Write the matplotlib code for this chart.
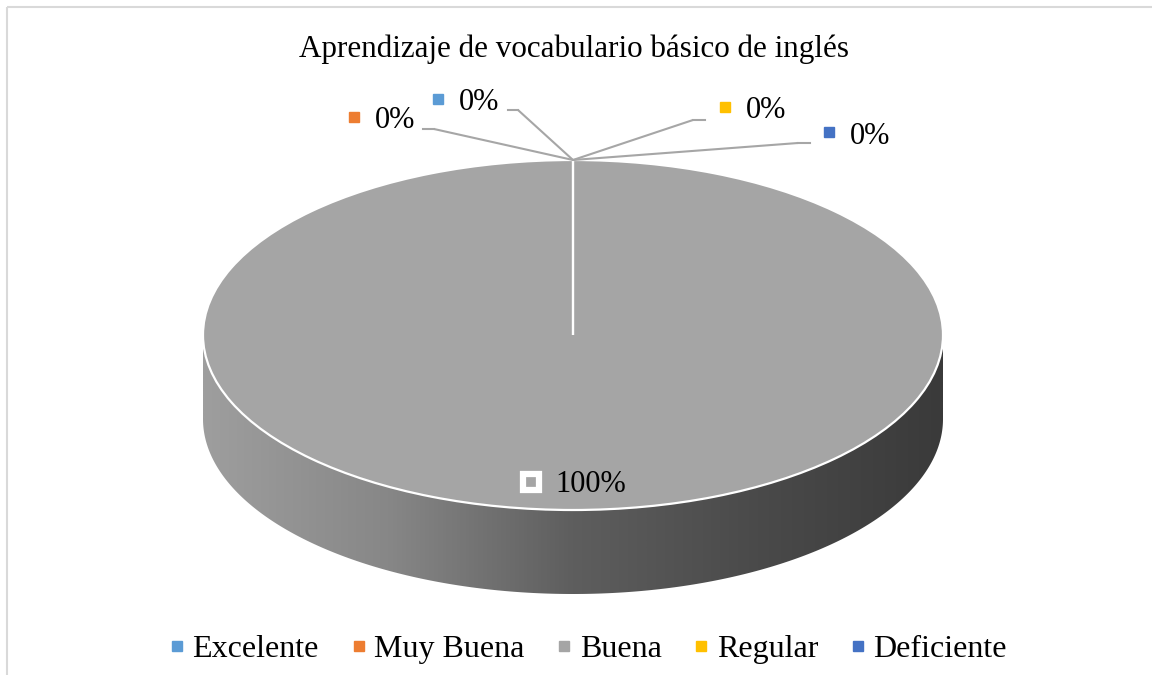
import numpy as np
import matplotlib
matplotlib.use("Agg")
import matplotlib.pyplot as plt
from matplotlib.transforms import Affine2D
from matplotlib.patches import Polygon, Rectangle
from matplotlib.lines import Line2D
from matplotlib.colors import LinearSegmentedColormap

# ---- data ----
title = "Aprendizaje de vocabulario básico de inglés"
categories = ["Excelente", "Muy Buena", "Buena", "Regular", "Deficiente"]
values = [0, 0, 100, 0, 0]
colors = ["#5B9BD5", "#ED7D31", "#A5A5A5", "#FFC000", "#4472C4"]

plt.rcParams['font.family'] = ['Liberation Serif', 'DejaVu Serif']

W, H = 1152, 675
fig = plt.figure(figsize=(W / 100, H / 100), dpi=100)
T = Affine2D().scale(1, -1).translate(0, H)  # image pixel coords -> display

# pie geometry (image pixels)
CX, CY, RX, RY, DEPTH = 573, 335, 370, 175, 84

ax = fig.add_axes([0, 0, 1, 1])
wedges, _ = ax.pie(values, colors=colors, startangle=90, counterclock=False,
                   radius=1,
                   wedgeprops=dict(edgecolor='white', linewidth=1.6, zorder=3))

# 3D side of the pie
d = DEPTH / RY
t = np.linspace(np.pi, 2 * np.pi, 300)
xs = np.concatenate([np.cos(t), np.cos(t[::-1])])
ys = np.concatenate([np.sin(t), np.sin(t[::-1]) - d])
side = Polygon(np.column_stack([xs, ys]), closed=True, facecolor='none',
               edgecolor='none', zorder=1)
ax.add_patch(side)
cmap = LinearSegmentedColormap.from_list(
    'side', [(0, '#9e9e9e'), (0.25, '#878787'), (0.5, '#5e5e5e'),
             (0.75, '#4a4a4a'), (1, '#3a3a3a')])
grad = np.linspace(0, 1, 512).reshape(1, -1)
im = ax.imshow(grad, extent=(-1, 1, -1 - d, 0.05), aspect='auto', cmap=cmap,
               zorder=1, interpolation='bilinear')
im.set_clip_path(side)

ax.set_aspect('auto')
ax.set_xlim(-CX / RX, (W - CX) / RX)
ax.set_ylim((CY - H) / RY, CY / RY)
ax.axis('off')

# title
fig.text(574, 49, title, transform=T, ha='center', va='center', fontsize=22.4)

# data labels (layout positions in pixels: text left x, center y)
label_pos = [(459, 103), (375, 121), (555, 485), (746, 111), (850, 136)]
# leader lines: knee point and end of horizontal segment
leaders = [((518, 110), 508), ((434, 129), 423), None,
           ((693, 120), 705), ((798, 143), 810)]

total = float(sum(values))
cum = 0.0
for i, (cat, v) in enumerate(zip(categories, values)):
    mid = cum + v / 2.0
    cum += v
    ang = np.deg2rad(90 - 360 * mid / total)
    tx, ty = label_pos[i]
    pct = f"{100 * v / total:.0f}%"
    fig.text(tx, ty, pct, transform=T, ha='left', va='center', fontsize=22)
    if v == max(values):
        ax.plot([tx - 24], [ty - 3], marker='s', ms=11, mfc=colors[i],
                mec='white', mew=4.5, transform=T, zorder=5)
    else:
        ax.plot([tx - 21], [ty - 4], marker='s', ms=7.2, mfc=colors[i],
                mec=colors[i], transform=T, zorder=5)
    if leaders[i] is not None:
        (kx, ky), ex = leaders[i]
        ax.annotate('', xy=(np.cos(ang), np.sin(ang)), xycoords='data',
                    xytext=(kx, ky), textcoords=T,
                    arrowprops=dict(arrowstyle='-', color='#A6A6A6', lw=1.5,
                                    shrinkA=0, shrinkB=0), zorder=4)
        ax.plot([kx, ex], [ky, ky], color='#A6A6A6', lw=1.5, transform=T,
                zorder=4)

# legend
handles = [Line2D([], [], marker='s', ls='', color=c, mec=c, markersize=7.8)
           for c in colors]
fig.legend(handles, categories, loc='center', bbox_to_anchor=(588, 649),
           bbox_transform=T, ncol=5, frameon=False, fontsize=23,
           handletextpad=0.23, columnspacing=1.0, handlelength=0.5)

# chart area border
fig.add_artist(Rectangle((7, 7), 1300, 800, transform=T, fill=False,
                         edgecolor='#D9D9D9', linewidth=1.5))

fig.savefig('out.png', dpi=100)
